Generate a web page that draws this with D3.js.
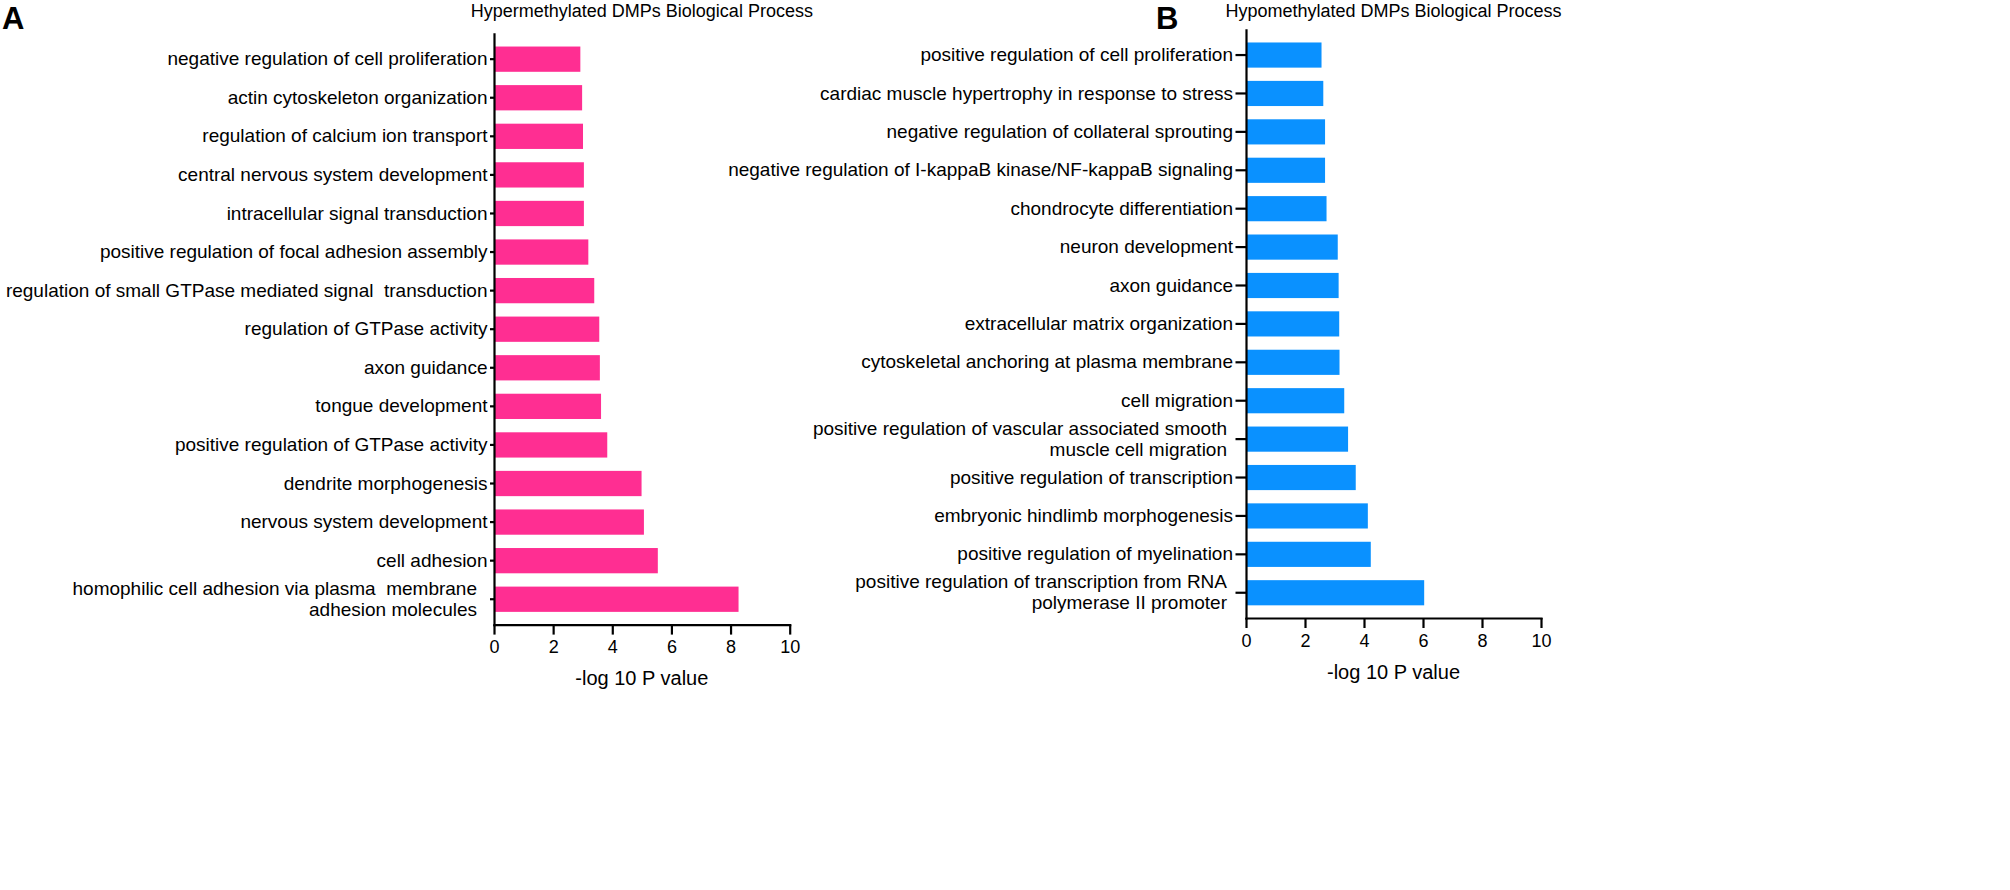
<!DOCTYPE html>
<html>
<head>
<meta charset="utf-8">
<script src="https://cdn.jsdelivr.net/npm/d3@7"></script>
<style>
  body { margin: 0; background: #fff; }
  svg { font-family: "Liberation Sans", Arial, sans-serif; }
  .axis path, .axis line { stroke: #000; stroke-width: 2.2; }
  .bar-label { white-space: pre; }
</style>
</head>
<body>
<svg id="chart" width="2010" height="890"></svg>
<script>
// Panel A: hypermethylated
const hyperTerms = [
    'negative regulation of cell proliferation',
    'actin cytoskeleton organization',
    'regulation of calcium ion transport',
    'central nervous system development',
    'intracellular signal transduction',
    'positive regulation of focal adhesion assembly',
    'regulation of small GTPase mediated signal  transduction',
    'regulation of GTPase activity',
    'axon guidance',
    'tongue development',
    'positive regulation of GTPase activity',
    'dendrite morphogenesis',
    'nervous system development',
    'cell adhesion',
    'homophilic cell adhesion via plasma  membrane\nadhesion molecules'
];
const hyperValues = [2.92, 2.98, 3.01, 3.04, 3.04, 3.19, 3.39, 3.56, 3.58, 3.62, 3.83, 4.99, 5.07, 5.54, 8.27];

// Panel B: hypomethylated
const hypoTerms = [
    'positive regulation of cell proliferation',
    'cardiac muscle hypertrophy in response to stress',
    'negative regulation of collateral sprouting',
    'negative regulation of I-kappaB kinase/NF-kappaB signaling',
    'chondrocyte differentiation',
    'neuron development',
    'axon guidance',
    'extracellular matrix organization',
    'cytoskeletal anchoring at plasma membrane',
    'cell migration',
    'positive regulation of vascular associated smooth\nmuscle cell migration',
    'positive regulation of transcription',
    'embryonic hindlimb morphogenesis',
    'positive regulation of myelination',
    'positive regulation of transcription from RNA\npolymerase II promoter'
];
const hypoValues = [2.56, 2.62, 2.68, 2.68, 2.73, 3.11, 3.14, 3.16, 3.17, 3.33, 3.46, 3.72, 4.13, 4.23, 6.04];

const xTicks = [0, 2, 4, 6, 8, 10];
const xTitle = '-log 10 P value';

const svg = d3.select('#chart');

function drawPanel(cfg) {
    const data = cfg.terms.map((t, i) => ({ term: t, value: cfg.values[i] }));

    const x = d3.scaleLinear().domain([0, 10]).range([cfg.x0, cfg.x1]);
    const y = d3.scaleBand()
        .domain(cfg.terms)
        .range([cfg.yTop, cfg.yBottom])
        .paddingInner(0.345)
        .paddingOuter(0.33);

    const g = svg.append('g');

    // bars
    g.selectAll('.bar')
        .data(data)
        .join('rect')
            .attr('class', 'bar')
            .attr('x', x(0))
            .attr('y', d => y(d.term))
            .attr('width', d => x(d.value) - x(0))
            .attr('height', y.bandwidth())
            .attr('fill', cfg.color);

    // y axis
    const yAxisG = g.append('g')
        .attr('class', 'axis y-axis')
        .attr('transform', `translate(${x(0)},0)`)
        .call(d3.axisLeft(y).tickSize(cfg.yTickLen).tickSizeOuter(0).tickPadding(2.5));

    yAxisG.selectAll('.tick text')
        .attr('class', 'bar-label')
        .attr('fill', '#000')
        .style('font-size', '19px')
        .each(function(d) {
            const lines = d.split('\n');
            const t = d3.select(this).text(null).attr('dy', null);
            if (lines.length > 1) {
                t.attr('x', -(cfg.multiEnd));
            }
            lines.forEach((ln, i) => {
                t.append('tspan')
                    .attr('x', lines.length > 1 ? -cfg.multiEnd : -(cfg.yTickLen + 2.5))
                    .attr('dy', i === 0 ? (0.32 * 19 - (lines.length - 1) * 10.5) + 'px' : '21px')
                    .text(ln);
            });
        });

    // x axis
    const xAxisG = g.append('g')
        .attr('class', 'axis x-axis')
        .attr('transform', `translate(0,${cfg.yBottom})`)
        .call(d3.axisBottom(x).tickValues(xTicks).tickSize(10).tickSizeOuter(0).tickPadding(6));

    xAxisG.selectAll('.tick text')
        .attr('fill', '#000')
        .style('font-size', '18px');

    g.selectAll('.axis path.domain').attr('stroke-linecap', 'square');

    // axis title
    g.append('text')
        .attr('x', (cfg.x0 + cfg.x1) / 2)
        .attr('y', cfg.yBottom + 60.5)
        .attr('text-anchor', 'middle')
        .style('font-size', '20px')
        .text(xTitle);

    // panel title
    g.append('text')
        .attr('x', (cfg.x0 + cfg.x1) / 2)
        .attr('y', 16.5)
        .attr('text-anchor', 'middle')
        .style('font-size', '18px')
        .text(cfg.title);

    // panel letter
    g.append('text')
        .attr('x', cfg.letterX)
        .attr('y', 29)
        .style('font-size', '31px')
        .style('font-weight', 'bold')
        .text(cfg.letter);
}

drawPanel({
    terms: hyperTerms, values: hyperValues,
    x0: 494, x1: 789.7, yTop: 33.8, yBottom: 624.6,
    color: '#ff2e92', yTickLen: 4, multiEnd: 17,
    title: 'Hypermethylated DMPs Biological Process',
    letter: 'A', letterX: 2
});

drawPanel({
    terms: hypoTerms, values: hypoValues,
    x0: 1246, x1: 1541, yTop: 29.8, yBottom: 618,
    color: '#0a91ff', yTickLen: 10.5, multiEnd: 19,
    title: 'Hypomethylated DMPs Biological Process',
    letter: 'B', letterX: 1156
});
</script>
</body>
</html>
